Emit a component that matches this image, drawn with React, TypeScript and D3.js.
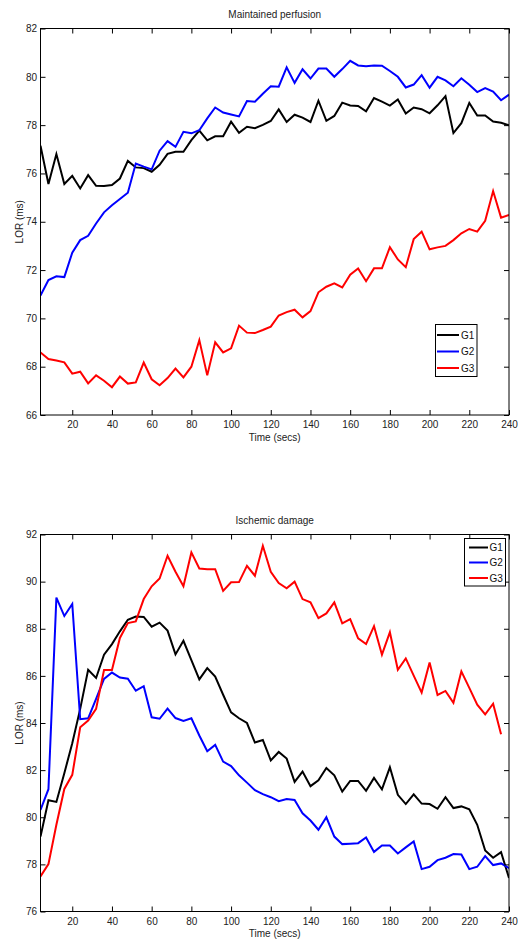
import { useEffect, useRef } from 'react';
import * as d3 from 'd3';

// sample times (secs)
const time = [4, 8, 12, 16, 20, 24, 28, 32, 36, 40, 44, 48, 52, 56, 60, 64, 68, 72, 76, 80,
  84, 88, 92, 96, 100, 104, 108, 112, 116, 120, 124, 128, 132, 136, 140, 144, 148, 152, 156, 160,
  164, 168, 172, 176, 180, 184, 188, 192, 196, 200, 204, 208, 212, 216, 220, 224, 228, 232, 236, 240];

const groups = ['G1', 'G2', 'G3'];
const colors = ['#000000', '#0000ff', '#ff0000'];
const xTicks = [20, 40, 60, 80, 100, 120, 140, 160, 180, 200, 220, 240];

// Maintained perfusion
const perfG1 = [77.15, 75.56, 76.8, 75.56, 75.9, 75.38, 75.93, 75.49, 75.48, 75.52,
  75.79, 76.52, 76.25, 76.22, 76.07, 76.36, 76.81, 76.9, 76.9, 77.38,
  77.77, 77.37, 77.54, 77.54, 78.14, 77.68, 77.93, 77.87, 78.01, 78.17,
  78.65, 78.13, 78.43, 78.31, 78.13, 79.01, 78.18, 78.38, 78.93, 78.81,
  78.79, 78.57, 79.12, 78.97, 78.81, 79.06, 78.48, 78.73, 78.66, 78.49,
  78.82, 79.2, 77.67, 78.08, 78.92, 78.4, 78.4, 78.15, 78.1, 77.99];
const perfG2 = [70.95, 71.59, 71.74, 71.71, 72.72, 73.24, 73.42, 73.93, 74.39, 74.68,
  74.94, 75.2, 76.41, 76.28, 76.17, 76.94, 77.34, 77.1, 77.72, 77.66,
  77.79, 78.28, 78.73, 78.52, 78.44, 78.36, 79.0, 78.97, 79.3, 79.61,
  79.59, 80.39, 79.75, 80.31, 79.93, 80.34, 80.34, 80.0, 80.32, 80.66,
  80.47, 80.44, 80.47, 80.46, 80.24, 80.0, 79.56, 79.68, 80.07, 79.55,
  80.0, 79.85, 79.61, 79.94, 79.67, 79.37, 79.53, 79.39, 79.03, 79.26];
const perfG3 = [68.59, 68.32, 68.26, 68.18, 67.71, 67.79, 67.31, 67.64, 67.42, 67.15,
  67.59, 67.3, 67.35, 68.17, 67.48, 67.23, 67.53, 67.92, 67.56, 68.0,
  69.1, 67.64, 69.01, 68.59, 68.76, 69.7, 69.41, 69.39, 69.52, 69.66,
  70.12, 70.26, 70.36, 70.04, 70.3, 71.08, 71.31, 71.45, 71.28, 71.81,
  72.07, 71.54, 72.07, 72.07, 72.95, 72.44, 72.12, 73.28, 73.59, 72.86,
  72.94, 73.0, 73.24, 73.52, 73.7, 73.59, 74.04, 75.27, 74.17, 74.28];

// Ischemic damage
const ischG1 = [79.18, 80.72, 80.65, 81.87, 83.14, 84.6, 86.26, 85.91, 86.9, 87.35,
  87.89, 88.38, 88.52, 88.5, 88.09, 88.26, 87.92, 86.91, 87.49, 86.67,
  85.85, 86.33, 85.97, 85.2, 84.45, 84.2, 84.0, 83.17, 83.28, 82.41,
  82.77, 82.49, 81.5, 81.94, 81.32, 81.57, 82.09, 81.78, 81.09, 81.54,
  81.54, 81.12, 81.67, 81.18, 82.12, 80.95, 80.56, 80.97, 80.58, 80.56,
  80.36, 80.85, 80.39, 80.46, 80.34, 79.68, 78.59, 78.28, 78.52, 77.42];
const ischG2 = [80.31, 81.19, 89.32, 88.54, 89.05, 84.16, 84.2, 85.02, 85.87, 86.14,
  85.93, 85.88, 85.37, 85.56, 84.24, 84.18, 84.61, 84.21, 84.09, 84.2,
  83.47, 82.8, 83.07, 82.36, 82.17, 81.78, 81.47, 81.15, 80.98, 80.85,
  80.68, 80.77, 80.73, 80.17, 79.86, 79.47, 80.0, 79.18, 78.86, 78.88,
  78.9, 79.14, 78.53, 78.8, 78.8, 78.46, 78.72, 78.97, 77.8, 77.9,
  78.18, 78.28, 78.44, 78.42, 77.8, 77.9, 78.35, 77.97, 78.04, 77.84];
// last sample missing (ends at 236s)
const ischG3 = [77.49, 78.01, 79.68, 81.2, 81.8, 83.82, 84.1, 84.6, 86.25, 86.25,
  87.61, 88.24, 88.31, 89.26, 89.8, 90.13, 91.1, 90.42, 89.8, 91.24,
  90.56, 90.53, 90.53, 89.61, 89.97, 89.98, 90.67, 90.25, 91.52, 90.42,
  89.94, 89.72, 90.0, 89.26, 89.12, 88.45, 88.65, 89.12, 88.23, 88.41,
  87.59, 87.35, 88.11, 86.9, 87.85, 86.26, 86.74, 86.01, 85.29, 86.57,
  85.19, 85.36, 84.86, 86.19, 85.49, 84.78, 84.37, 84.82, 83.52];

const panels = [
  {
    title: 'Maintained perfusion',
    top: 28.5, bottom: 415, yDomain: [66, 82],
    series: [perfG1, perfG2, perfG3],
    legend: { x: 435.5, y: 324.5, w: 41.5, h: 52, line: [437, 459], textX: 461, rows: [335, 351.5, 368] },
  },
  {
    title: 'Ischemic damage',
    top: 534.5, bottom: 911.5, yDomain: [76, 92],
    series: [ischG1, ischG2, ischG3],
    legend: { x: 464.5, y: 538.5, w: 41, h: 47.5, line: [469, 488], textX: 489.5, rows: [547.5, 562.5, 578] },
  },
];

const W = 518;
const H = 939;
const left = 40.5;
const right = 509;
const font = '"Liberation Sans", Arial, Helvetica, sans-serif';

export default function App() {
  const svgRef = useRef(null);

  useEffect(() => {
    const svg = d3.select(svgRef.current);
    svg.selectAll('*').remove();

    const x = d3.scaleLinear().domain([4, 240]).range([left, right]);

    panels.forEach((p, pi) => {
      const y = d3.scaleLinear().domain(p.yDomain).range([p.bottom, p.top]);
      const yTicks = d3.range(p.yDomain[0], p.yDomain[1] + 1, 2);
      const g = svg.append('g');

      // lines
      const clipId = 'clip' + pi;
      g.append('clipPath').attr('id', clipId)
        .append('rect').attr('x', left).attr('y', p.top)
        .attr('width', right - left).attr('height', p.bottom - p.top);

      const line = d3.line<number>()
        .x((d, i) => x(time[i]))
        .y(d => y(d));

      g.append('g').attr('clip-path', `url(#${clipId})`)
        .selectAll('path')
        .data(p.series)
        .join('path')
        .attr('fill', 'none')
        .attr('stroke', (d, i) => colors[i])
        .attr('stroke-width', 2)
        .attr('stroke-linejoin', 'miter')
        .attr('d', d => line(d));

      // axes, matlab style ticks pointing inward
      const styleAxis = sel => {
        sel.select('.domain').remove();
        sel.selectAll('line').attr('stroke', '#000');
        sel.selectAll('text').attr('fill', '#222').style('font', `10px ${font}`);
      };
      g.append('g').attr('transform', `translate(0,${p.bottom})`)
        .call(d3.axisBottom(x).tickValues(xTicks).tickSize(-5).tickPadding(6))
        .call(styleAxis);
      g.append('g').attr('transform', `translate(0,${p.top})`)
        .call(d3.axisTop(x).tickValues(xTicks).tickSize(-5).tickFormat(() => ''))
        .call(styleAxis);
      g.append('g').attr('transform', `translate(${left},0)`)
        .call(d3.axisLeft(y).tickValues(yTicks).tickSize(-5).tickPadding(3.5))
        .call(styleAxis);
      g.append('g').attr('transform', `translate(${right},0)`)
        .call(d3.axisRight(y).tickValues(yTicks).tickSize(-5).tickFormat(() => ''))
        .call(styleAxis);

      g.append('rect')
        .attr('x', left).attr('y', p.top)
        .attr('width', right - left).attr('height', p.bottom - p.top)
        .attr('fill', 'none').attr('stroke', '#000').attr('stroke-width', 1);

      // labels
      const cx = (left + right) / 2;
      g.append('text').attr('x', cx).attr('y', p.top - 11)
        .attr('text-anchor', 'middle').attr('fill', '#222')
        .style('font', `10px ${font}`).text(p.title);
      g.append('text').attr('x', cx).attr('y', p.bottom + 25.5)
        .attr('text-anchor', 'middle').attr('fill', '#222')
        .style('font', `10px ${font}`).text('Time (secs)');
      g.append('text')
        .attr('transform', `translate(22.5,${(p.top + p.bottom) / 2}) rotate(-90)`)
        .attr('text-anchor', 'middle').attr('fill', '#222')
        .style('font', `10px ${font}`).text('LOR (ms)');

      // legend
      const L = p.legend;
      const lg = g.append('g');
      lg.append('rect').attr('x', L.x).attr('y', L.y).attr('width', L.w).attr('height', L.h)
        .attr('fill', '#fff').attr('stroke', '#000').attr('stroke-width', 1);
      groups.forEach((name, i) => {
        lg.append('line')
          .attr('x1', L.line[0]).attr('x2', L.line[1])
          .attr('y1', L.rows[i]).attr('y2', L.rows[i])
          .attr('stroke', colors[i]).attr('stroke-width', 2);
        lg.append('text').attr('x', L.textX).attr('y', L.rows[i]).attr('dy', '0.35em')
          .attr('fill', '#111').style('font', `10px ${font}`).text(name);
      });
    });
  }, []);

  return (
    <svg ref={svgRef} width={W} height={H}
      style={{ position: 'absolute', left: 0, top: 0, background: '#fff' }} />
  );
}
